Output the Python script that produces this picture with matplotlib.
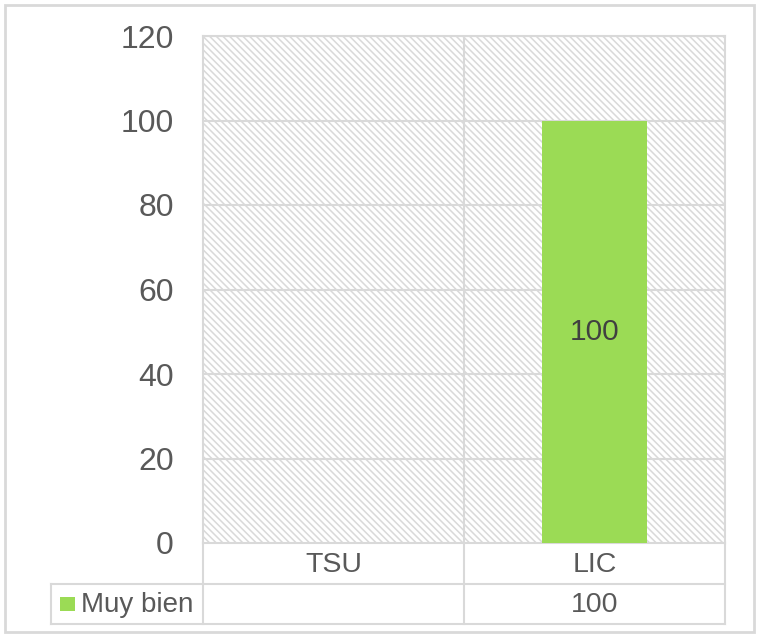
import numpy as np
import matplotlib.pyplot as plt
from matplotlib.patches import Rectangle
from matplotlib.lines import Line2D

# data
categories = ["TSU", "LIC"]
series_name = "Muy bien"
values = [np.nan, 100]
value_labels = ["", "100"]
y_ticks = [0, 20, 40, 60, 80, 100, 120]

plt.rcParams['font.family'] = ['Liberation Sans', 'DejaVu Sans']
plt.rcParams['hatch.linewidth'] = 1.1
plt.rcParams['hatch.color'] = '#d6d6d6'

W, H = 757, 634
fig = plt.figure(figsize=(W / 100, H / 100), dpi=100)

# plot area in pixels
left, right, top, bottom = 203, 725, 36, 543
ax = fig.add_axes([left / W, 1 - bottom / H, (right - left) / W, (bottom - top) / H])

grid_c = '#d9d9d9'
text_c = '#595959'
green = '#9bdb55'

x = np.arange(len(categories))
ax.set_xlim(-0.5, len(categories) - 0.5)
ax.set_ylim(0, 120)

# hatched background
ax.add_patch(Rectangle((0, 0), 1, 1, transform=ax.transAxes, facecolor='white',
                       edgecolor=grid_c, hatch='\\' * 5, linewidth=0, zorder=0))
for yv in y_ticks[1:]:
    ax.axhline(yv, color=grid_c, lw=1.5, zorder=1)
ax.axvline(0.5, color=grid_c, lw=1.5, zorder=1)

bar_vals = [0 if np.isnan(v) else v for v in values]
bars = ax.bar(x, bar_vals, width=0.4, color=green, zorder=3)
for b, v, lab in zip(bars, values, value_labels):
    if not np.isnan(v):
        ax.text(b.get_x() + b.get_width() / 2, v / 2, lab, ha='center', va='center',
                fontsize=21.5, color='#404040', zorder=4)

ax.set_yticks(y_ticks)
ax.set_yticklabels([str(t) for t in y_ticks], fontsize=23, color=text_c)
ax.tick_params(axis='y', length=0, pad=21)
ax.set_xticks([])
for s in ax.spines.values():
    s.set_color(grid_c)
    s.set_linewidth(1.5)

# data table below the axes (pixel coordinates)
def px(xp, yp):
    return xp / W, 1 - yp / H

row1, row2, row3 = 543, 584, 624
tbl_left = 51
mid = (left + right) / 2
lines = [
    ((left, row1), (left, row3)),
    ((mid, row1), (mid, row3)),
    ((right, row1), (right, row3)),
    ((tbl_left, row2), (right, row2)),
    ((tbl_left, row3), (right, row3)),
    ((tbl_left, row2), (tbl_left, row3)),
]
for (x0, y0), (x1, y1) in lines:
    a, b = px(x0, y0)
    c, d = px(x1, y1)
    fig.add_artist(Line2D([a, c], [b, d], color=grid_c, lw=1.5))

col_centers = [(left + mid) / 2, (mid + right) / 2]
for cx, cat, lab in zip(col_centers, categories, value_labels):
    fig.text(*px(cx, (row1 + row2) / 2 + 1), cat, ha='center', va='center', fontsize=20.5, color=text_c)
    fig.text(*px(cx, (row2 + row3) / 2 + 1), lab, ha='center', va='center', fontsize=20.5, color=text_c)

# legend key in table
kx, ky = px(60, 611)
fig.add_artist(Rectangle((kx, ky), 15 / W, 14 / H, transform=fig.transFigure,
                         facecolor=green, edgecolor='none'))
fig.text(*px(81, (row2 + row3) / 2 + 1), series_name, ha='left', va='center', fontsize=20, color=text_c)

# outer frame
fx, fy = px(5, 632)
fig.add_artist(Rectangle((fx, fy), 749 / W, 627 / H, transform=fig.transFigure,
                         facecolor='none', edgecolor=grid_c, lw=2))

fig.savefig('out.png', dpi=100)
